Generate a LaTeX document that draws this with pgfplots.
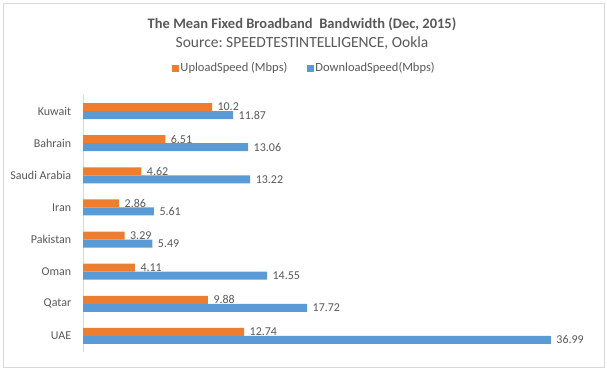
\documentclass[border=0pt]{standalone}
\usepackage{pgfplots}
\pgfplotsset{compat=1.18}
\usepackage{fontspec}
\setmainfont{Carlito}
\frenchspacing
\definecolor{upc}{HTML}{ED7D31}
\definecolor{dnc}{HTML}{5B9BD5}
\definecolor{txt}{HTML}{595959}
\definecolor{lgray}{HTML}{D9D9D9}
\begin{document}
\begin{tikzpicture}[x=1pt,y=1pt]
\useasboundingbox (0,0) rectangle (607,370);
\fill[white] (0,0) rectangle (607,370);
\draw[lgray] (3,3) rectangle (604,367);
\node[text=txt,font=\fontsize{14.5}{16}\selectfont\bfseries] at (302,346) {The Mean Fixed Broadband \ Bandwidth (Dec, 2015)};
\node[text=txt,font=\fontsize{15.5}{17}\selectfont] at (302,327) {Source: SPEEDTESTINTELLIGENCE, Ookla};
\begin{axis}[
  at={(83pt,18pt)}, anchor=south west,
  scale only axis, width=506pt, height=257pt,
  xmin=0, xmax=40, ymin=-0.5, ymax=7.5,
  axis x line=none,
  axis y line*=left,
  y axis line style={draw=lgray},
  ytick={0,...,7},
  yticklabels={UAE,Qatar,Oman,Pakistan,Iran,Saudi Arabia,Bahrain,Kuwait},
  ytick style={draw=none},
  yticklabel style={text=txt,font=\fontsize{12}{14}\selectfont,xshift=-4pt},
  xbar, bar width=8pt,
  nodes near coords,
  every node near coord/.append style={text=txt,font=\fontsize{12}{14}\selectfont,anchor=west,xshift=2pt},
  /pgf/number format/assume math mode=true,
  legend columns=2, reverse legend,
  legend style={at={(0.437,1.105)},anchor=center,draw=none,fill=none,
    font=\fontsize{12.5}{14}\selectfont,text=txt,
    nodes={inner xsep=1.5pt}},
  legend image code/.code={\fill[#1] (0pt,-3.5pt) rectangle (7pt,3.5pt);},
  clip=false,
]
\addplot[fill=dnc,draw=none,bar shift=-4pt] coordinates {
(36.99,0) (17.72,1) (14.55,2) (5.49,3) (5.61,4) (13.22,5) (13.06,6) (11.87,7)};
\addlegendentry{DownloadSpeed(Mbps)}
\addplot[fill=upc,draw=none,bar shift=4pt] coordinates {
(12.74,0) (9.88,1) (4.11,2) (3.29,3) (2.86,4) (4.62,5) (6.51,6) (10.2,7)};
\addlegendentry{UploadSpeed (Mbps)\rule{18pt}{0pt}}
\end{axis}
\end{tikzpicture}
\end{document}
